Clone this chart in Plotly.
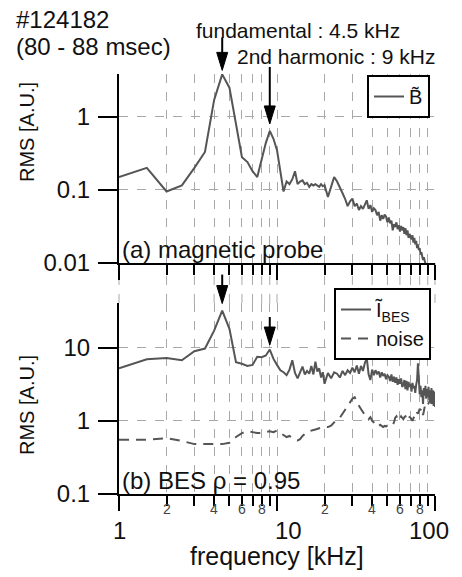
import numpy as np
import plotly.graph_objects as go

# ---------------- data ----------------
freq_khz = [1.0, 1.5, 2.0, 2.5, 3.0, 3.5, 4.0, 4.5, 5.0, 5.5, 6.0, 6.5, 7.0, 7.5, 8.0, 8.5, 9.0, 9.5, 10.0,
            10.5, 11.0, 11.5, 12.0, 12.5, 13.0, 13.5, 14.0, 14.5, 15.0, 15.5, 16.0, 16.5, 17.0, 17.5, 18.0,
            18.5, 19.0, 19.5, 20.0,
            21, 22, 23, 24, 25, 26, 27, 28, 29, 30, 31, 32, 33, 34, 35, 36, 37, 38, 39, 40,
            41, 42, 43, 44, 45, 46, 47, 48, 49, 50, 51, 52, 53, 54, 55, 56, 57, 58, 59, 60,
            61, 62, 63, 64, 65, 66, 67, 68, 69, 70, 71, 72, 73, 74, 75, 76, 77, 78, 79, 80,
            81, 82, 83, 84, 85, 86, 87, 88, 89, 90, 91, 92, 93, 94, 95, 96, 97, 98, 99, 100]

b_rms = [0.15, 0.20, 0.095, 0.115, 0.20, 0.33, 1.7, 3.8, 2.5, 0.75, 0.28, 0.24, 0.18, 0.15, 0.27, 0.44,
         0.64, 0.50, 0.35, 0.17, 0.095, 0.13, 0.12, 0.14, 0.18, 0.12, 0.13, 0.135, 0.12, 0.125, 0.11,
         0.12, 0.115, 0.12, 0.116, 0.11, 0.12, 0.112, 0.116,
         0.08, 0.11, 0.15, 0.13, 0.11, 0.09, 0.075, 0.06, 0.07, 0.076,
         0.06, 0.065, 0.053, 0.06, 0.055, 0.065, 0.072, 0.055, 0.062, 0.05,
         0.056, 0.053, 0.045, 0.05, 0.038, 0.045, 0.04, 0.046, 0.043, 0.036,
         0.042, 0.035, 0.038, 0.028, 0.034, 0.031, 0.036, 0.029, 0.033, 0.027,
         0.032, 0.028, 0.031, 0.025, 0.03, 0.024, 0.028, 0.022, 0.025, 0.023,
         0.021, 0.024, 0.019, 0.022, 0.018, 0.02, 0.016, 0.018, 0.015, 0.016,
         0.013, 0.014, 0.012, 0.011, 0.012, 0.0105, 0.0095, 0.0085, 0.0078, 0.0072,
         0.0068, 0.0064, 0.006, 0.0057, 0.0054, 0.0051, 0.0048, 0.0046, 0.0044, 0.0042]

bes_rms = [5.2, 6.9, 7.2, 6.7, 8.9, 9.7, 17, 32, 18, 6.3, 6.0, 5.6, 5.8, 7.5, 7.4, 7.8, 9.4, 7.0, 5.8,
           4.9, 4.6, 4.2, 5.0, 6.7, 4.5, 3.8, 4.6, 5.5, 4.3, 4.8, 4.4, 5.6, 4.3, 6.4, 4.7, 5.2, 3.9, 4.6, 3.2,
           4.5, 3.8, 4.6, 4.4, 3.9, 4.8, 4.2, 4.9, 4.5, 5.3,
           4.6, 5.7, 4.4, 5.6, 4.8, 6.2, 7.1, 4.3, 3.6, 5.0,
           4.2, 4.9, 4.4, 4.7, 3.9, 4.6, 4.1, 4.4, 3.7, 4.2,
           4.0, 3.5, 4.3, 3.4, 4.0, 3.3, 3.9, 3.1, 3.7, 3.2,
           3.8, 2.9, 3.1, 3.6, 2.7, 3.5, 2.6, 3.4, 2.9, 3.2,
           2.5, 3.3, 2.8, 3.0, 2.4, 3.1, 3.6, 6.1, 2.8, 2.3,
           3.0, 2.1, 2.6, 1.7, 2.8, 2.2, 3.0, 2.0, 2.7, 2.1,
           2.9, 1.9, 2.6, 1.8, 2.8, 1.7, 2.6, 1.6, 2.5, 1.55]

noise_rms = [0.55, 0.55, 0.58, 0.53, 0.48, 0.48, 0.48, 0.48, 0.50, 0.60, 0.68, 0.72, 0.70, 0.68, 0.68,
             0.70, 0.72, 0.70, 0.74, 0.68, 0.64, 0.60, 0.62, 0.58, 0.55, 0.54, 0.56, 0.62, 0.66, 0.70,
             0.72, 0.74, 0.75, 0.76, 0.78, 0.80, 0.80, 0.82, 0.83,
             0.82, 0.86, 0.95, 1.05, 1.1, 1.25, 1.4, 1.55, 1.75, 2.0,
             2.1, 1.8, 1.6, 1.45, 1.3, 1.2, 1.15, 1.05, 1.12, 1.0,
             0.95, 0.9, 0.92, 0.85, 0.88, 0.86, 0.82, 0.85, 0.84, 0.86,
             0.85, 0.87, 0.9, 0.88, 0.95, 1.1, 1.15, 1.05, 1.0, 1.08,
             1.15, 1.1, 1.05, 1.12, 1.15, 1.08, 1.0, 1.05, 1.12, 1.1,
             1.05, 1.0, 1.08, 1.15, 1.1, 1.2, 1.3, 1.25, 1.35, 1.45,
             1.4, 1.5, 1.3, 1.2, 1.35, 1.55, 1.5, 1.6, 1.7, 1.65,
             1.75, 1.8, 1.9, 1.85, 1.7, 1.9, 2.0, 1.8, 1.7, 1.75]

fundamental_khz = 4.5
harmonic_khz = 9.0

x_major_ticks = [1, 10, 100]
x_major_labels = ["1", "10", "100"]
x_minor_ticks = [2, 3, 4, 5, 6, 7, 8, 9, 20, 30, 40, 50, 60, 70, 80, 90]
x_minor_labelled = [2, 4, 6, 8, 20, 40, 60, 80]
top_y_ticks = [0.01, 0.1, 1]
top_y_labels = ["0.01", "0.1", "1"]
bot_y_ticks = [0.1, 1, 10]
bot_y_labels = ["0.1", "1", "10"]

# ---------------- geometry / style ----------------
FONT = "Liberation Sans, Arial, Helvetica, sans-serif"
TEXT_COLOR = "#111111"
LINE_COLOR = "#555555"
GRID_COLOR = "#a8a8a8"
W_FIG, H_FIG = 462, 577
M_L, M_R, M_T, M_B = 119, 27, 74, 83
PW = W_FIG - M_L - M_R
PH = H_FIG - M_T - M_B

X_RANGE = [0, 2]
TOP_DOMAIN = [0.55, 1.0]
BOT_DOMAIN = [0.0, 0.455]
TOP_YRANGE = [-2, 0.585]
BOT_YRANGE = [-1, 1.61]
MAJOR_LABEL_SHIFT_PX = [0, 11, -6]   # horizontal placement of the decade labels as in the original


def xpaper(f):
    return (np.log10(f) - X_RANGE[0]) / (X_RANGE[1] - X_RANGE[0])


def ypaper(v, dom, rng):
    return dom[0] + (np.log10(v) - rng[0]) / (rng[1] - rng[0]) * (dom[1] - dom[0])


def px_to_paper_y(py):
    return (H_FIG - M_B - py) / PH


def px_to_paper_x(px):
    return (px - M_L) / PW


fig = go.Figure()
fig.add_trace(go.Scatter(x=freq_khz, y=b_rms, mode="lines", name="B\u0303",
                         line=dict(color=LINE_COLOR, width=2), xaxis="x", yaxis="y", legend="legend"))
fig.add_trace(go.Scatter(x=freq_khz, y=bes_rms, mode="lines", name="\u0128<sub>BES</sub>",
                         line=dict(color=LINE_COLOR, width=2), xaxis="x2", yaxis="y2", legend="legend2"))
fig.add_trace(go.Scatter(x=freq_khz, y=noise_rms, mode="lines", name="noise",
                         line=dict(color=LINE_COLOR, width=2, dash="10px,7px"), xaxis="x2", yaxis="y2",
                         legend="legend2"))

xaxis_common = dict(type="log", range=X_RANGE, tickmode="array", tickvals=x_major_ticks,
                    ticks="outside", ticklen=15, tickwidth=2, tickcolor="black",
                    showline=True, linecolor="black", linewidth=2,
                    showgrid=True, gridcolor=GRID_COLOR, griddash="dash", gridwidth=1,
                    minor=dict(tickvals=x_minor_ticks, ticks="outside", ticklen=10, tickwidth=2,
                               tickcolor="black", showgrid=True, gridcolor=GRID_COLOR,
                               griddash="dash", gridwidth=1),
                    showticklabels=False, zeroline=False)
yaxis_common = dict(type="log", tickmode="array", ticks="outside", ticklen=19, tickwidth=2,
                    tickcolor="black", showline=True, linecolor="black", linewidth=2,
                    showgrid=True, gridcolor=GRID_COLOR, griddash="dash", gridwidth=1,
                    tickfont=dict(family=FONT, size=24, color=TEXT_COLOR), ticklabelstandoff=3,
                    zeroline=False)

fig.update_layout(
    width=W_FIG, height=H_FIG,
    margin=dict(l=M_L, r=M_R, t=M_T, b=M_B),
    paper_bgcolor="white", plot_bgcolor="white",
    font=dict(family=FONT, color=TEXT_COLOR),
    xaxis=dict(xaxis_common, anchor="y"),
    yaxis=dict(yaxis_common, domain=TOP_DOMAIN, range=TOP_YRANGE, anchor="x",
               tickvals=top_y_ticks, ticktext=top_y_labels),
    xaxis2=dict(xaxis_common, anchor="y2"),
    yaxis2=dict(yaxis_common, domain=BOT_DOMAIN, range=BOT_YRANGE, anchor="x2",
                tickvals=bot_y_ticks, ticktext=bot_y_labels),
    legend=dict(x=px_to_paper_x(430), xanchor="right", y=px_to_paper_y(75), yanchor="top",
                bordercolor="black", borderwidth=2, bgcolor="white",
                font=dict(family=FONT, size=20, color=TEXT_COLOR), itemwidth=30),
    legend2=dict(x=px_to_paper_x(431), xanchor="right", y=px_to_paper_y(288), yanchor="top",
                 bordercolor="black", borderwidth=2, bgcolor="white",
                 font=dict(family=FONT, size=20, color=TEXT_COLOR), itemwidth=30),
    showlegend=True,
)

shapes = []
# vertical dashed grid lines continuing through the gap between the two panels
for f in x_major_ticks + x_minor_ticks:
    shapes.append(dict(type="line", xref="paper", yref="paper", x0=xpaper(f), x1=xpaper(f),
                       y0=BOT_DOMAIN[1], y1=TOP_DOMAIN[0], layer="below",
                       line=dict(color=GRID_COLOR, width=1, dash="dash")))


def add_arrow(f, series, dom, rng, gap_px, length_px):
    v = series[freq_khz.index(f)]
    xp = xpaper(f)
    tip = ypaper(v, dom, rng) + gap_px / PH
    base = tip + 18 / PH
    tail = tip + length_px / PH
    shapes.append(dict(type="line", xref="paper", yref="paper", x0=xp, x1=xp, y0=base - 2 / PH, y1=tail,
                       line=dict(color="black", width=2)))
    shapes.append(dict(type="path", xref="paper", yref="paper",
                       path=f"M {xp - 5.5 / PW},{base} L {xp + 5.5 / PW},{base} L {xp},{tip} Z",
                       fillcolor="black", line=dict(color="black", width=1)))


add_arrow(fundamental_khz, b_rms, TOP_DOMAIN, TOP_YRANGE, 4, 33)
add_arrow(harmonic_khz, b_rms, TOP_DOMAIN, TOP_YRANGE, 7, 57)
add_arrow(fundamental_khz, bes_rms, BOT_DOMAIN, BOT_YRANGE, 7, 29)
add_arrow(harmonic_khz, bes_rms, BOT_DOMAIN, BOT_YRANGE, 4.5, 28)
fig.update_layout(shapes=shapes)

ann = []
# x-axis tick labels of the lower panel (major decades and labelled minor ticks)
for v, lab, dx in zip(x_major_ticks, x_major_labels, MAJOR_LABEL_SHIFT_PX):
    ann.append(dict(text=lab, x=xpaper(v) + dx / PW, y=px_to_paper_y(530), xref="paper", yref="paper",
                    showarrow=False, xanchor="center", yanchor="middle",
                    font=dict(family=FONT, size=24, color=TEXT_COLOR)))
for v in x_minor_labelled:
    ann.append(dict(text=str(int(str(v)[0])), x=xpaper(v), y=px_to_paper_y(509), xref="paper", yref="paper",
                    showarrow=False, xanchor="center", yanchor="middle",
                    font=dict(family=FONT, size=14, color="#444")))


def text_ann(text, px, py, size, xanchor="left", angle=0):
    ann.append(dict(text=text, x=px_to_paper_x(px), y=px_to_paper_y(py), xref="paper", yref="paper",
                    showarrow=False, xanchor=xanchor, yanchor="middle", textangle=angle,
                    font=dict(family=FONT, size=size, color=TEXT_COLOR)))


text_ann("#124182", 14, 19, 24)
text_ann("(80 - 88 msec)", 14, 46.5, 24)
text_ann("fundamental : 4.5 kHz", 194, 31, 21)
text_ann("2nd harmonic : 9 kHz", 235, 57, 21)
text_ann("(a) magnetic probe", 120, 250, 24)
text_ann("(b) BES \u03c1 = 0.95", 120, 480, 24)
text_ann("frequency [kHz]", 277, 556, 25, xanchor="center")
text_ann("RMS [A.U.]", 27, 132, 20, xanchor="center", angle=-90)
text_ann("RMS [A.U.]", 27, 405, 20, xanchor="center", angle=-90)
fig.update_layout(annotations=ann)

fig.write_html("out.html")
